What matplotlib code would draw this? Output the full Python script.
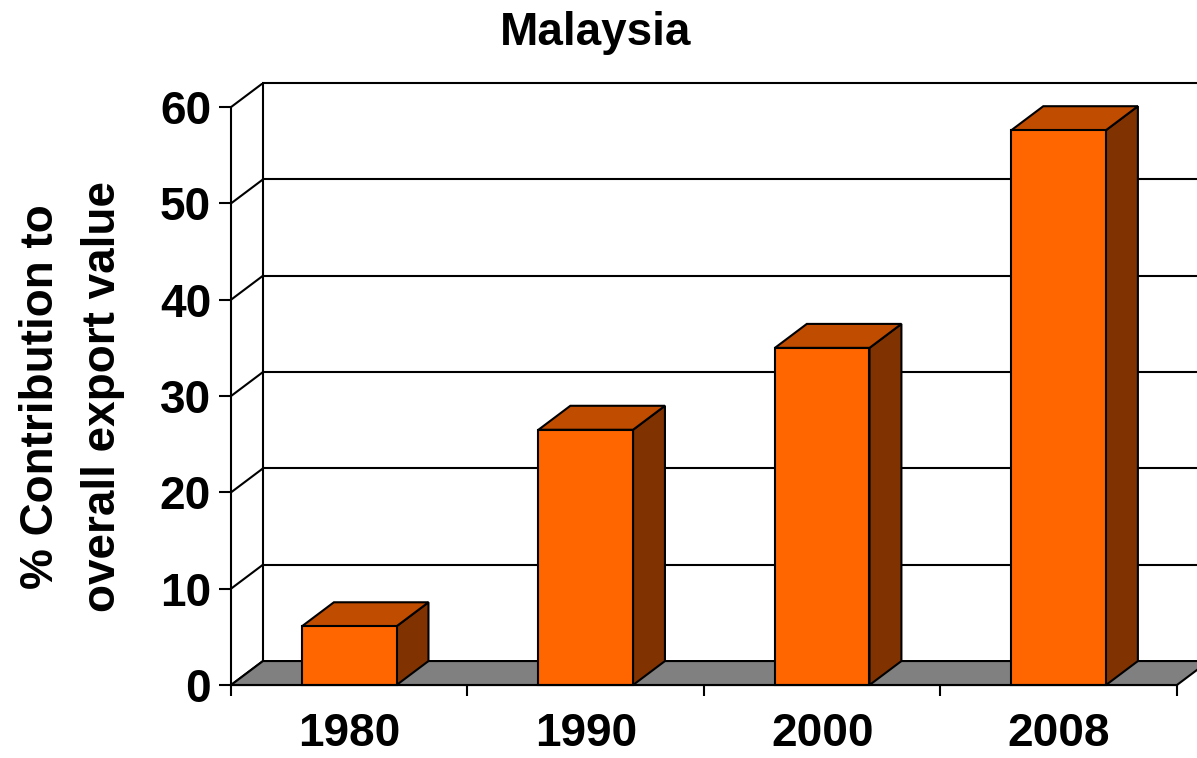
import matplotlib
matplotlib.use("Agg")
from matplotlib import pyplot as plt
from matplotlib.patches import Polygon, Rectangle

plt.rcParams['font.family'] = ['Liberation Sans', 'DejaVu Sans']

years = ['1980', '1990', '2000', '2008']
share = [6.1, 26.5, 35.0, 57.6]
y_ticks = [0, 10, 20, 30, 40, 50, 60]

FRONT = '#FF6600'
TOP = '#C04C00'
SIDE = '#803300'
FLOOR = '#808080'

# depth of the fake 3d box, in data units
dx = 0.135
dy = 2.49
bar_w = 0.4
n = len(years)
lw = 1.5

fig = plt.figure(figsize=(11.97, 7.58), dpi=100)
ax = fig.add_axes([0.193, 0.0645, 0.807, 0.826])
ax.set_xlim(0, 4.085)
ax.set_ylim(-2.5, 62.5)
ax.patch.set_visible(False)

# back wall gridlines and the diagonals on the left wall
for v in y_ticks:
    if v > 0:
        ax.plot([dx, n + dx + 0.2], [v + dy, v + dy], color='black', lw=lw,
                zorder=1, clip_on=False)
    ax.plot([0, dx], [v, v + dy], color='black', lw=lw, zorder=1)
ax.plot([dx, dx], [dy, 60 + dy], color='black', lw=lw, zorder=1)

# floor
floor = Polygon([(0, 0), (n, 0), (n + dx, dy), (dx, dy)], closed=True,
                facecolor=FLOOR, edgecolor='black', lw=lw, zorder=2,
                clip_on=False)
ax.add_patch(floor)

# bars: front, top and right faces
for i, v in enumerate(share):
    x0 = i + 0.5 - bar_w / 2
    x1 = i + 0.5 + bar_w / 2
    side = Polygon([(x1, 0), (x1 + dx, dy), (x1 + dx, v + dy), (x1, v)],
                   closed=True, facecolor=SIDE, edgecolor='black', lw=lw, zorder=3)
    top = Polygon([(x0, v), (x1, v), (x1 + dx, v + dy), (x0 + dx, v + dy)],
                  closed=True, facecolor=TOP, edgecolor='black', lw=lw, zorder=3)
    front = Rectangle((x0, 0), bar_w, v, facecolor=FRONT, edgecolor='black',
                      lw=lw, zorder=4)
    ax.add_patch(side)
    ax.add_patch(top)
    ax.add_patch(front)

# axes lines
for s in ['top', 'right']:
    ax.spines[s].set_visible(False)
ax.spines['left'].set_position(('data', 0))
ax.spines['left'].set_bounds(0, 60)
ax.spines['bottom'].set_position(('data', 0))
ax.spines['bottom'].set_bounds(0, n)
for s in ['left', 'bottom']:
    ax.spines[s].set_linewidth(lw)
    ax.spines[s].set_zorder(5)

ax.set_yticks(y_ticks)
ax.set_yticklabels([str(t) for t in y_ticks])
ax.tick_params(axis='y', length=8.6, width=lw, pad=5.8, labelsize=33)

ax.set_xticks([i + 0.5 for i in range(n)])
ax.set_xticklabels(years)
ax.set_xticks(range(n + 1), minor=True)
ax.tick_params(axis='x', which='major', length=0, pad=19.5, labelsize=33)
ax.tick_params(axis='x', which='minor', length=8, width=lw, direction='out')

for lab in ax.get_xticklabels() + ax.get_yticklabels():
    lab.set_fontweight('bold')

fig.text(596 / 1197, 1 - 33 / 758, 'Malaysia', ha='center', va='center',
         fontsize=33, fontweight='bold')
fig.text(72 / 1197, 1 - 397 / 758, '% Contribution to\noverall export value',
         ha='center', va='center', rotation=90, fontsize=33,
         fontweight='bold', linespacing=1.55)

fig.savefig('out.png', dpi=100)
